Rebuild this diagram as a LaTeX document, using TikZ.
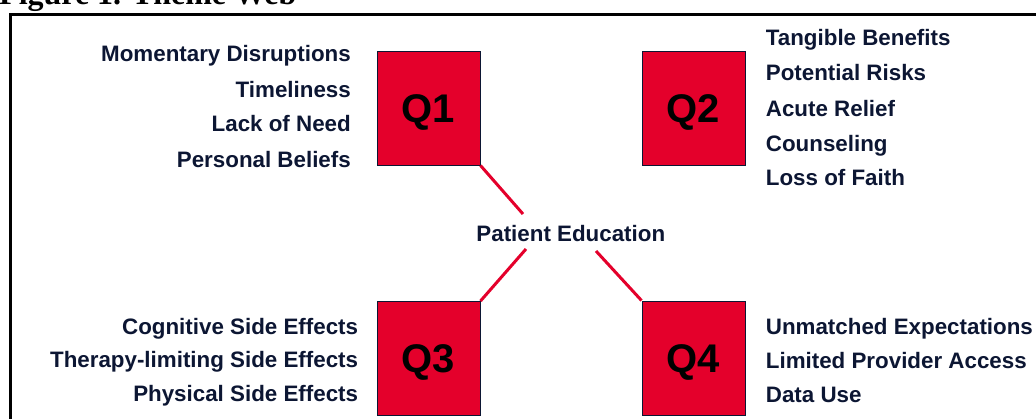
\documentclass[tikz,border=0pt]{standalone}
\usepackage{fontspec}
\setmainfont{Liberation Sans}
\newfontfamily\titlefont{Liberation Serif}
\definecolor{qred}{RGB}{228,0,43}
\definecolor{navy}{RGB}{12,22,51}

\begin{document}
\begin{tikzpicture}[x=1pt,y=-1pt,
  qbox/.style={draw=navy,line width=1pt,fill=qred,minimum width=103pt,minimum height=114pt,
    inner sep=0pt,text height=28.6pt,text depth=0pt,font=\fontsize{40}{40}\selectfont\bfseries},
  item/.style={inner sep=0pt,text=navy,font=\fontsize{22.35}{26}\selectfont\bfseries},
  link/.style={qred,line width=3pt}]
\useasboundingbox (0,0) rectangle (1036,418);
\clip (0,0) rectangle (1036,418);

% title and frame, cut by the page
\node[anchor=base west,inner sep=0pt,font=\titlefont\bfseries\fontsize{32}{32}\selectfont] (title) at (-1,4) {Figure 1. Theme Web};
\draw[line width=3pt] (1100,14)--(10.5,14)--(10.5,480);

% the four quadrants
\node[qbox] (q1) at (428.5,108) {Q1};
\node[qbox] (q2) at (693.5,108) {Q2};
\node[qbox] (q3) at (428.5,358.5) {Q3};
\node[qbox] (q4) at (693.5,358) {Q4};

\node[item,anchor=base] (pe) at (570.8,241.7) {Patient Education};

% Q1
\node[item,anchor=base east] (md) at (351,61.7) {Momentary Disruptions};
\node[item,anchor=base east] (tl) at (351,97.3) {Timeliness};
\node[item,anchor=base east] (ln) at (351,131.7) {Lack of Need};
\node[item,anchor=base east] (pb) at (351,167.3) {Personal Beliefs};

% Q2
\node[item,anchor=base west] (tb) at (765.7,45.7) {Tangible Benefits};
\node[item,anchor=base west] (pr) at (765.7,80.7) {Potential Risks};
\node[item,anchor=base west] (ar) at (765.7,116) {Acute Relief};
\node[item,anchor=base west] (co) at (765.7,151) {Counseling};
\node[item,anchor=base west] (lf) at (765.7,185.7) {Loss of Faith};

% Q3
\node[item,anchor=base east] (cs) at (358.3,334) {Cognitive Side Effects};
\node[item,anchor=base east] (ts) at (358.3,367.5) {Therapy-limiting Side Effects};
\node[item,anchor=base east] (ps) at (358.3,401.5) {Physical Side Effects};

% Q4
\node[item,anchor=base west] (ue) at (765.7,334) {Unmatched Expectations};
\node[item,anchor=base west] (lp) at (765.7,368) {Limited Provider Access};
\node[item,anchor=base west] (du) at (765.7,402.5) {Data Use};

% spokes
\coordinate (e1) at (523,214);
\coordinate (e3) at (526,249);
\coordinate (e4) at (596,251);
\draw[link] (q1.south east)--(e1);
\draw[link] (q3.north east)--(e3);
\draw[link] (q4.north west)--(e4);
\end{tikzpicture}
\end{document}
